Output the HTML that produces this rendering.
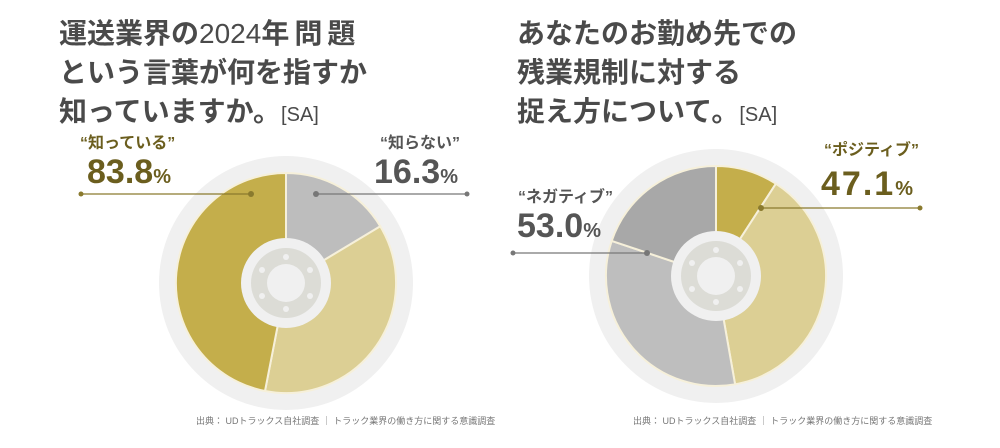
<!DOCTYPE html>
<html><head><meta charset="utf-8"><style>
body{margin:0;background:#fff;}
svg{display:block;font-family:"Liberation Sans","Noto Sans CJK JP",sans-serif;}
</style></head><body>
<svg width="1000" height="448" viewBox="0 0 1000 448">
<g fill="#4a4a4a" font-weight="bold" font-size="28">
<text x="59" y="43">運送業界の<tspan font-weight="normal">2024</tspan><tspan letter-spacing="5">年問題</tspan></text>
<text x="59" y="82">という言葉が何を指すか</text>
<text x="59" y="121">知っていますか。<tspan font-size="20" font-weight="normal">[SA]</tspan></text>
<text x="517" y="43">あなたのお勤め先での</text>
<text x="517" y="82">残業規制に対する</text>
<text x="517" y="121">捉え方について。<tspan font-size="20" font-weight="normal">[SA]</tspan></text>
</g>
<!-- left pie -->
<circle cx="286" cy="283" r="127" fill="#f0f0f0"/>
<g stroke="#f6f0da" stroke-width="2">
<path d="M286,283 L286,173 A110,110 0 0 1 380.3,226.3 Z" fill="#bdbdbd"/>
<path d="M286,283 L380.3,226.3 A110,110 0 0 1 265,391 Z" fill="#dccf94"/>
<path d="M286,283 L265,391 A110,110 0 0 1 286,173 Z" fill="#c4ae4b"/>
</g>
<circle cx="286" cy="283" r="45" fill="#f0f0f0"/>
<circle cx="286" cy="283" r="35" fill="#dcdcd6"/>
<circle cx="286" cy="283" r="19" fill="#f0f0f0"/>
<g fill="#f0f0f0">
<circle cx="286" cy="257" r="3"/><circle cx="286" cy="309" r="3"/>
<circle cx="262" cy="270" r="3"/><circle cx="310" cy="270" r="3"/>
<circle cx="262" cy="296" r="3"/><circle cx="310" cy="296" r="3"/>
</g>
<!-- right pie -->
<circle cx="716" cy="276" r="127" fill="#f0f0f0"/>
<g stroke="#f6f0da" stroke-width="2">
<path d="M716,276 L716,166 A110,110 0 0 1 775.9,183.7 Z" fill="#c4ae4b"/>
<path d="M716,276 L775.9,183.7 A110,110 0 0 1 735.1,384.3 Z" fill="#dccf94"/>
<path d="M716,276 L735.1,384.3 A110,110 0 0 1 611.7,240.9 Z" fill="#bebebe"/>
<path d="M716,276 L611.7,240.9 A110,110 0 0 1 716,166 Z" fill="#a8a8a8"/>
</g>
<circle cx="716" cy="276" r="45" fill="#f0f0f0"/>
<circle cx="716" cy="276" r="35" fill="#dcdcd6"/>
<circle cx="716" cy="276" r="19" fill="#f0f0f0"/>
<g fill="#f0f0f0">
<circle cx="716" cy="250" r="3"/><circle cx="716" cy="302" r="3"/>
<circle cx="692" cy="263" r="3"/><circle cx="740" cy="263" r="3"/>
<circle cx="692" cy="289" r="3"/><circle cx="740" cy="289" r="3"/>
</g>
<!-- labels -->
<g font-weight="bold">
<text x="80" y="148" font-size="16" fill="#6b5e1e">“知っている”</text>
<text x="87" y="183" font-size="34" fill="#6b5e1e">83.8<tspan font-size="20">%</tspan></text>
<text x="380" y="148" font-size="16" fill="#555">“知らない”</text>
<text x="374" y="183" font-size="34" fill="#555">16.3<tspan font-size="20">%</tspan></text>
<text x="824" y="155" font-size="16" fill="#6b5e1e">“ポジティブ”</text>
<text x="821" y="195" font-size="34" fill="#6b5e1e" letter-spacing="2">47.1<tspan font-size="20">%</tspan></text>
<text x="518" y="202" font-size="16" fill="#555">“ネガティブ”</text>
<text x="517" y="237" font-size="34" fill="#555">53.0<tspan font-size="20">%</tspan></text>
</g>
<g stroke-width="1.3">
<line x1="81" y1="194" x2="251" y2="194" stroke="#8a7a2e"/>
<circle cx="81" cy="194" r="2.5" fill="#8a7a2e"/><circle cx="251" cy="194" r="3" fill="#8a7a2e"/>
<line x1="316" y1="194" x2="467" y2="194" stroke="#777"/>
<circle cx="316" cy="194" r="3" fill="#777"/><circle cx="467" cy="194" r="2.5" fill="#777"/>
<line x1="761" y1="208" x2="920" y2="208" stroke="#8a7a2e"/>
<circle cx="761" cy="208" r="3" fill="#8a7a2e"/><circle cx="920" cy="208" r="2.5" fill="#8a7a2e"/>
<line x1="513" y1="253" x2="647" y2="253" stroke="#777"/>
<circle cx="513" cy="253" r="2.5" fill="#777"/><circle cx="647" cy="253" r="3" fill="#777"/>
</g>
<g font-size="9" fill="#777">
<text x="196" y="424">出典： UDトラックス自社調査 ｜ トラック業界の働き方に関する意識調査</text>
<text x="633" y="424">出典： UDトラックス自社調査 ｜ トラック業界の働き方に関する意識調査</text>
</g>
</svg>
</body></html>
